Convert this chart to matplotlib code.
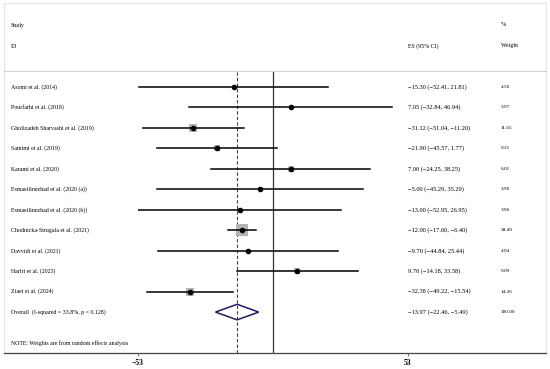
import matplotlib.pyplot as plt
from matplotlib.patches import Polygon, Rectangle
from matplotlib.lines import Line2D
from matplotlib.transforms import blended_transform_factory

plt.rcParams['font.family'] = ['Liberation Serif', 'DejaVu Serif']

studies = ['Asomi et al. (2014)', 'Pourfarhi et al. (2018)', 'Gholizadeh Sharvashi et al. (2019)',
           'Samimi et al. (2019)', 'Karami et al. (2020)', 'Esmaeilinezhad et al. (2020 (a))',
           'Esmaeilinezhad et al. (2020 (b))', 'Chodnicka-Strugala et al. (2021)', 'Davvidi et al. (2021)',
           'Hariri et al. (2023)', 'Ziaei et al. (2024)']
es = [-15.30, 7.05, -31.12, -21.90, 7.00, -5.00, -13.00, -12.00, -9.70, 9.70, -32.38]
lo = [-52.41, -32.84, -51.04, -45.57, -24.25, -45.29, -52.95, -17.60, -44.84, -14.18, -49.22]
hi = [21.81, 46.94, -11.20, 1.77, 38.25, 35.29, 26.95, -6.40, 25.44, 33.58, -15.54]
weights = [4.50, 3.97, 11.65, 9.21, 6.01, 3.90, 3.96, 28.49, 4.94, 9.09, 14.26]

overall_label = 'Overall  (I-squared = 33.8%, p = 0.128)'
overall_es, overall_lo, overall_hi = -13.97, -22.46, -5.49
xticks = [-53, 53]

W, H = 550, 369
fig = plt.figure(figsize=(W / 100, H / 100), dpi=100)


def fx(x):
    return x / W


def fy(y):
    return 1 - y / H


# forest axes: x from -53 to 53 between px 138 and 408, rows below header line
ax = fig.add_axes([fx(137.7), fy(353), (407.7 - 137.7) / W, (353 - 71) / H])
ax.set_xlim(-53, 53)
ax.set_ylim(13.0, -0.78)
for s in ['top', 'right', 'left']:
    ax.spines[s].set_visible(False)
ax.spines['bottom'].set_visible(False)
ax.set_yticks([])
ax.set_xticks(xticks)
ax.set_xticklabels(['\u2212' + str(abs(t)) if t < 0 else str(t) for t in xticks],
                   fontsize=5.5, fontweight='bold')
ax.tick_params(axis='x', length=2, width=0.6, pad=2, color='#555555')

rows = list(range(len(studies)))
overall_row = len(studies)

ax.axvline(0, color='#333333', lw=0.9)
ax.axvline(overall_es, color='#8b2020', lw=0.8, ls=(0, (3, 2)))

for r, e, l, h, w in zip(rows, es, lo, hi, weights):
    ax.scatter([e], [r], marker='s', s=2.62 * w, color='#b4b4b4', zorder=2, linewidths=0)
    ax.plot([l, h], [r, r], color='black', lw=1.1, zorder=3)
    ax.plot([e], [r], 'o', color='black', ms=3, zorder=4)

diamond = Polygon([[overall_lo, overall_row], [overall_es, overall_row - 0.38],
                   [overall_hi, overall_row], [overall_es, overall_row + 0.38]],
                  closed=True, fill=False, edgecolor='#1c1c66', lw=1.1, zorder=4)
ax.add_patch(diamond)

# frame, header separator and bottom axis line
fig.patches.append(Rectangle((fx(4), fy(353)), fx(542), (353 - 3) / H, transform=fig.transFigure,
                             fill=False, edgecolor='#e4e4e4', lw=0.8))
fig.lines.append(Line2D([fx(4), fx(546)], [fy(71), fy(71)], transform=fig.transFigure,
                        color='#d0d0d0', lw=0.8))
fig.lines.append(Line2D([fx(4), fx(546)], [fy(353), fy(353)], transform=fig.transFigure,
                        color='#444444', lw=0.9))

fs = 4.2
tr = blended_transform_factory(fig.transFigure, ax.transData)


def fmt(v):
    return ('\u2212' if v < 0 else '') + '%.2f' % abs(v)


for r, name, e, l, h, w in zip(rows, studies, es, lo, hi, weights):
    fig.text(fx(11), r, name, transform=tr, fontsize=fs, va='center')
    fig.text(fx(408), r, '%s (%s, %s)' % (fmt(e), fmt(l), fmt(h)), transform=tr, fontsize=fs + 0.4, va='center')
    fig.text(fx(501), r, '%.2f' % w, transform=tr, fontsize=fs - 0.4, va='center')

fig.text(fx(11), overall_row, overall_label, transform=tr, fontsize=fs, va='center')
fig.text(fx(408), overall_row, '%s (%s, %s)' % (fmt(overall_es), fmt(overall_lo), fmt(overall_hi)),
         transform=tr, fontsize=fs + 0.4, va='center')
fig.text(fx(501), overall_row, '100.00', transform=tr, fontsize=fs - 0.4, va='center')
fig.text(fx(11), 12.5, 'NOTE: Weights are from random effects analysis', transform=tr, fontsize=fs, va='center')

fig.text(fx(11), fy(25), 'Study', fontsize=fs, va='center')
fig.text(fx(11), fy(46), 'ID', fontsize=fs, va='center')
fig.text(fx(408), fy(46), 'ES (95% CI)', fontsize=fs, va='center')
fig.text(fx(501), fy(25), '%', fontsize=fs, va='center')
fig.text(fx(501), fy(46), 'Weight', fontsize=fs, va='center')

fig.savefig('out.png', dpi=100)
